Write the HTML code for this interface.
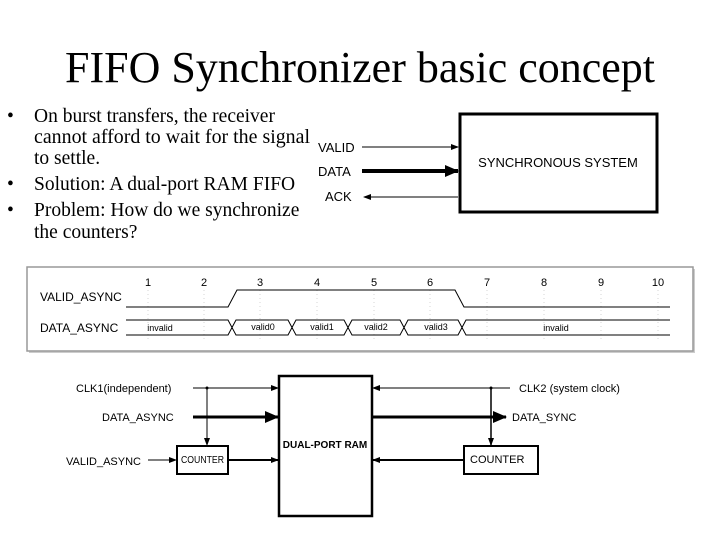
<!DOCTYPE html>
<html><head><meta charset="utf-8"><style>
html,body{margin:0;padding:0;background:#fff;}
svg{display:block;}
.t{font-family:"Liberation Serif",serif;}
.s{font-family:"Liberation Sans",sans-serif;}
</style></head><body>
<svg width="720" height="540" viewBox="0 0 720 540" xmlns="http://www.w3.org/2000/svg">
<defs>
<marker id="a" markerWidth="8" markerHeight="8" refX="7" refY="4" orient="auto" markerUnits="userSpaceOnUse"><path d="M0,1 L8,4 L0,7 Z" fill="#000"/></marker>
<marker id="b" markerWidth="14" markerHeight="14" refX="13" refY="7" orient="auto" markerUnits="userSpaceOnUse"><path d="M0,1 L14,7 L0,13 Z" fill="#000"/></marker>
</defs>
<text class="t" x="360" y="82" font-size="44" text-anchor="middle" textLength="590" lengthAdjust="spacingAndGlyphs">FIFO Synchronizer basic concept</text>
<g class="t" font-size="19.5">
<text x="7" y="122">•</text><text x="34" y="122">On burst transfers, the receiver</text>
<text x="34" y="143" textLength="276" lengthAdjust="spacingAndGlyphs">cannot afford to wait for the signal</text>
<text x="34" y="164">to settle.</text>
<text x="7" y="190">•</text><text x="34" y="190">Solution: A dual-port RAM FIFO</text>
<text x="7" y="216">•</text><text x="34" y="216">Problem: How do we synchronize</text>
<text x="34" y="238">the counters?</text>
</g>
<rect x="460" y="114" width="197" height="98" fill="none" stroke="#000" stroke-width="3"/>
<g class="s" font-size="13">
<text x="558" y="167" text-anchor="middle">SYNCHRONOUS SYSTEM</text>
<text x="318" y="152">VALID</text>
<text x="318" y="176">DATA</text>
<text x="325" y="201">ACK</text>
</g>
<line x1="362" y1="147" x2="458" y2="147" stroke="#000" stroke-width="1" marker-end="url(#a)"/>
<line x1="362" y1="171" x2="458" y2="171" stroke="#000" stroke-width="4" marker-end="url(#b)"/>
<line x1="458" y1="197" x2="364" y2="197" stroke="#000" stroke-width="1" marker-end="url(#a)"/>
<rect x="29" y="269" width="666" height="84" fill="#ccc"/>
<rect x="27" y="267" width="666" height="84" fill="#fff" stroke="#999" stroke-width="1.5"/>
<g class="s" font-size="11" text-anchor="middle">
<text x="148" y="286">1</text><text x="204" y="286">2</text><text x="260" y="286">3</text><text x="317" y="286">4</text><text x="374" y="286">5</text><text x="430" y="286">6</text><text x="487" y="286">7</text><text x="544" y="286">8</text><text x="601" y="286">9</text><text x="658" y="286">10</text>
</g>
<g stroke="#bbb" stroke-width="0.6" stroke-dasharray="1,3">
<line x1="148" y1="290" x2="148" y2="340"/><line x1="204" y1="290" x2="204" y2="340"/><line x1="260" y1="290" x2="260" y2="340"/><line x1="317" y1="290" x2="317" y2="340"/><line x1="374" y1="290" x2="374" y2="340"/><line x1="430" y1="290" x2="430" y2="340"/><line x1="487" y1="290" x2="487" y2="340"/><line x1="544" y1="290" x2="544" y2="340"/><line x1="601" y1="290" x2="601" y2="340"/><line x1="658" y1="290" x2="658" y2="340"/>
</g>
<g class="s" font-size="12">
<text x="40" y="301">VALID_ASYNC</text>
<text x="40" y="332">DATA_ASYNC</text>
</g>
<g fill="none" stroke="#000" stroke-width="1">
<polyline points="126,307 228,307 237,290 455,290 464,307 670,307"/>
<polyline points="126,320 228,320 232,327.5 236,320 288,320 292,327.5 296,320 344,320 348,327.5 352,320 400,320 404,327.5 408,320 458,320 462,327.5 466,320 670,320"/>
<polyline points="126,335 228,335 232,327.5 236,335 288,335 292,327.5 296,335 344,335 348,327.5 352,335 400,335 404,327.5 408,335 458,335 462,327.5 466,335 670,335"/>
</g>
<g class="s" font-size="9" text-anchor="middle">
<text x="160" y="331">invalid</text><text x="263" y="330">valid0</text><text x="322" y="330">valid1</text><text x="376" y="330">valid2</text><text x="436" y="330">valid3</text><text x="556" y="331">invalid</text>
</g>
<rect x="279" y="376" width="93" height="140" fill="none" stroke="#000" stroke-width="2.5"/>
<rect x="177" y="446" width="51" height="28" fill="none" stroke="#000" stroke-width="2"/>
<rect x="464" y="446" width="74" height="28" fill="none" stroke="#000" stroke-width="2"/>
<g class="s" font-size="11">
<text x="76" y="392">CLK1(independent)</text>
<text x="102" y="421">DATA_ASYNC</text>
<text x="66" y="465">VALID_ASYNC</text>
<text x="181" y="463" font-size="10" textLength="43" lengthAdjust="spacingAndGlyphs">COUNTER</text>
<text x="470" y="463">COUNTER</text>
<text x="519" y="392">CLK2 (system clock)</text>
<text x="512" y="421">DATA_SYNC</text>
<text x="325" y="448" text-anchor="middle" font-weight="bold" font-size="10">DUAL-PORT RAM</text>
</g>
<g stroke="#000" fill="none">
<line x1="193" y1="388" x2="278" y2="388" stroke-width="1" marker-end="url(#a)"/>
<line x1="207" y1="388" x2="207" y2="445" stroke-width="1" marker-end="url(#a)"/>
<line x1="193" y1="417" x2="278" y2="417" stroke-width="3" marker-end="url(#b)"/>
<line x1="148" y1="460" x2="176" y2="460" stroke-width="1" marker-end="url(#a)"/>
<line x1="228" y1="460" x2="278" y2="460" stroke-width="2" marker-end="url(#a)"/>
<line x1="510" y1="388" x2="373" y2="388" stroke-width="1" marker-end="url(#a)"/>
<line x1="491" y1="388" x2="491" y2="445" stroke-width="1.5" marker-end="url(#a)"/>
<line x1="373" y1="417" x2="506" y2="417" stroke-width="3" marker-end="url(#b)"/>
<line x1="464" y1="460" x2="373" y2="460" stroke-width="2" marker-end="url(#a)"/>
</g>
<circle cx="207" cy="388" r="1.5"/><circle cx="491" cy="388" r="1.5"/>
</svg>
</body></html>
